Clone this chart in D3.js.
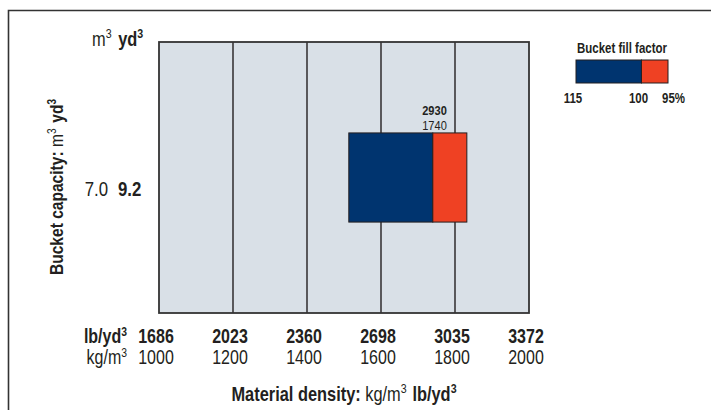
<!DOCTYPE html>
<html>
<head>
<meta charset="utf-8">
<script src="https://cdn.jsdelivr.net/npm/d3@7"></script>
<style>
  body { margin: 0; background: #fff; }
  svg text { font-family: "Liberation Sans", Arial, sans-serif; fill: #231f20; }
</style>
</head>
<body>
<div id="chart"></div>
<script>
var svgWidth = 711;
var svgHeight = 410;

// data
var densityKg = [1000, 1200, 1400, 1600, 1800, 2000];
var densityLb = [1686, 2023, 2360, 2698, 3035, 3372];
var capacityM3 = ["7.0"];
var capacityYd3 = ["9.2"];
var fillFactors = ["115", "100", "95%"];
var boxEdgesKg = [1513, 1740, 1832];   // density at 115%, 100%, 95% fill
var ratedKg = 1740;
var ratedLb = 2930;
var boxColors = ["#00346f", "#ef4123"];

var plot = { left: 159, right: 529, top: 42, bottom: 313 };
var narrow = 0.82;   // horizontal squeeze to mimic a condensed face

var svg = d3.select("#chart")
  .append("svg")
  .attr("width", svgWidth)
  .attr("height", svgHeight);

// outer frame (only left and top edges visible)
svg.append("path")
  .attr("d", "M8.5,410 V10.5 H711")
  .attr("fill", "none")
  .attr("stroke", "#333")
  .attr("stroke-width", 1.6);

var x = d3.scaleLinear()
  .domain([densityKg[0], densityKg[densityKg.length - 1]])
  .range([plot.left, plot.right]);

var y = d3.scaleBand()
  .domain(capacityM3)
  .range([plot.bottom, plot.top])
  .paddingOuter(1.02);

// helper: condensed text with optional bold / superscript parts
function label(parent, tx, ty, parts, size, anchor, rotate) {
  var g = parent.append("g")
    .attr("transform", `translate(${tx},${ty})` + (rotate ? ` rotate(${rotate})` : "") + ` scale(${narrow},1)`);
  var t = g.append("text")
    .attr("font-size", size)
    .attr("text-anchor", anchor || "start");
  var shift = 0;
  parts.forEach(function(p) {
    var s = t.append("tspan").text(p.t);
    if (p.b) s.attr("font-weight", "bold");
    var target = 0;
    if (p.sup) {
      s.attr("font-size", size * 0.65);
      target = -size * 0.38;
    }
    if (target !== shift) s.attr("dy", target - shift);
    shift = target;
    if (p.dx) s.attr("dx", p.dx);
  });
  return t;
}

// plot background
svg.append("rect")
  .attr("x", plot.left)
  .attr("y", plot.top)
  .attr("width", plot.right - plot.left)
  .attr("height", plot.bottom - plot.top)
  .attr("fill", "#d9e0e7");

// vertical grid lines
svg.append("g")
  .selectAll("line")
  .data(densityKg.slice(1, -1))
  .enter()
  .append("line")
  .attr("x1", d => x(d))
  .attr("x2", d => x(d))
  .attr("y1", plot.top)
  .attr("y2", plot.bottom)
  .attr("stroke", "#231f20")
  .attr("stroke-width", 1.4);

// bucket box
var boxGroup = svg.append("g");
boxGroup.selectAll("rect")
  .data(d3.pairs(boxEdgesKg))
  .enter()
  .append("rect")
  .attr("x", d => x(d[0]))
  .attr("y", y("7.0"))
  .attr("width", d => x(d[1]) - x(d[0]))
  .attr("height", y.bandwidth())
  .attr("fill", (d, i) => boxColors[i])
  .attr("stroke", "#231f20")
  .attr("stroke-width", 1);

label(boxGroup, x(ratedKg) + 14, y("7.0") - 18, [{ t: ratedLb, b: true }], 13.5, "end");
label(boxGroup, x(ratedKg) + 14, y("7.0") - 3, [{ t: ratedKg }], 13.5, "end");

// plot border
svg.append("rect")
  .attr("x", plot.left)
  .attr("y", plot.top)
  .attr("width", plot.right - plot.left)
  .attr("height", plot.bottom - plot.top)
  .attr("fill", "none")
  .attr("stroke", "#333")
  .attr("stroke-width", 1.8);

// x tick labels (two rows)
var ticks = svg.append("g");
densityLb.forEach(function(d, i) {
  label(ticks, x(densityKg[i]) - 3, 343, [{ t: d, b: true }], 19.5, "middle");
});
densityKg.forEach(function(d) {
  label(ticks, x(d) - 3, 364, [{ t: d }], 19.5, "middle");
});

label(svg, 127, 343, [{ t: "lb/yd", b: true }, { t: "3", b: true, sup: true }], 19.5, "end");
label(svg, 127, 364, [{ t: "kg/m" }, { t: "3", sup: true }], 19.5, "end");

// x axis title
label(svg, (plot.left + plot.right) / 2, 401,
  [{ t: "Material density: ", b: true }, { t: "kg/m" }, { t: "3", sup: true },
   { t: "lb/yd", b: true, dx: 7 }, { t: "3", b: true, sup: true }], 20, "middle");

// y row labels
capacityM3.forEach(function(d, i) {
  var yy = y(d) + y.bandwidth() / 2 + 18;
  label(svg, 108, yy, [{ t: d }], 20.5, "end");
  label(svg, 118, yy, [{ t: capacityYd3[i], b: true }], 20.5, "start");
});

// y units header
label(svg, 92, 46, [{ t: "m" }, { t: "3", sup: true }, { t: "yd", b: true, dx: 8 }, { t: "3", b: true, sup: true }], 20, "start");

// y axis title
label(svg, 63, 187,
  [{ t: "Bucket capacity: ", b: true }, { t: "m" }, { t: "3", sup: true },
   { t: "yd", b: true, dx: 7 }, { t: "3", b: true, sup: true }], 19, "middle", -90);

// legend
var legendX = d3.scaleLinear()
  .domain([boxEdgesKg[0], boxEdgesKg[2]])
  .range([576, 668]);

var legend = svg.append("g");
label(legend, 622, 53, [{ t: "Bucket fill factor", b: true }], 14, "middle");

legend.selectAll("rect")
  .data(d3.pairs(boxEdgesKg))
  .enter()
  .append("rect")
  .attr("x", d => legendX(d[0]))
  .attr("y", 60)
  .attr("width", d => legendX(d[1]) - legendX(d[0]))
  .attr("height", 23)
  .attr("fill", (d, i) => boxColors[i])
  .attr("stroke", "#231f20")
  .attr("stroke-width", 1);

fillFactors.forEach(function(d, i) {
  var lx = legendX(boxEdgesKg[i]) + (i === 2 ? -6 : -3);
  label(legend, lx, 103, [{ t: d, b: true }], 14, i === 2 ? "start" : "middle");
});
</script>
</body>
</html>
